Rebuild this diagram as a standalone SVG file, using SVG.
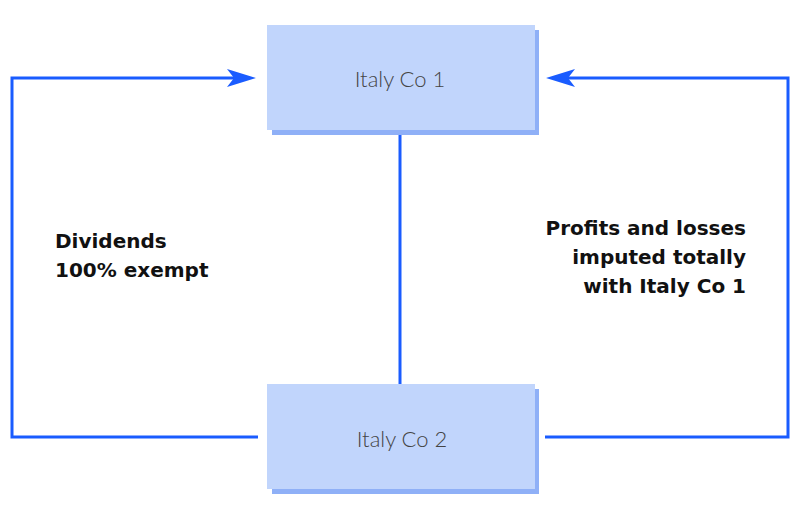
<svg xmlns="http://www.w3.org/2000/svg" width="800" height="525" viewBox="0 0 800 525">
<defs>
<style>
.shadow{fill:#8fb0f7}
.box{fill:#c1d5fc}
.name{font-family:Lato,"Open Sans",sans-serif;font-size:22px;font-weight:300;fill:#444;text-anchor:middle}
.lbl{font-family:"DejaVu Sans",sans-serif;font-size:20px;font-weight:bold;fill:#111}
.conn{fill:none;stroke:#1a5cff;stroke-width:3}
</style>
</defs>
<rect width="800" height="525" fill="#fff"/>
<g id="connectors">
<path class="conn" d="M258,437 H12 V78 H248"/>
<path d="M227,69 L256,78 L227,87 L234,78 Z" fill="#1a5cff"/>
<path class="conn" d="M545,437 H788 V78 H556"/>
<path d="M575,69 L546,78 L575,87 L568,78 Z" fill="#1a5cff"/>
<path class="conn" d="M400,130 V384"/>
</g>
<g id="italy-co-1">
<rect class="shadow" x="272" y="30" width="267" height="105"/>
<rect class="box" x="267" y="25" width="268" height="105"/>
<text class="name" x="400" y="87">Italy Co 1</text>
</g>
<g id="italy-co-2">
<rect class="shadow" x="272" y="389" width="267" height="105"/>
<rect class="box" x="267" y="384" width="268" height="105"/>
<text class="name" x="402" y="447">Italy Co 2</text>
</g>
<g id="label-dividends">
<text class="lbl" x="55" y="248">Dividends</text>
<text class="lbl" x="55" y="277">100% exempt</text>
</g>
<g id="label-profits" text-anchor="end">
<text class="lbl" x="746" y="235">Profits and losses</text>
<text class="lbl" x="746" y="264">imputed totally</text>
<text class="lbl" x="746" y="293">with Italy Co 1</text>
</g>
</svg>
